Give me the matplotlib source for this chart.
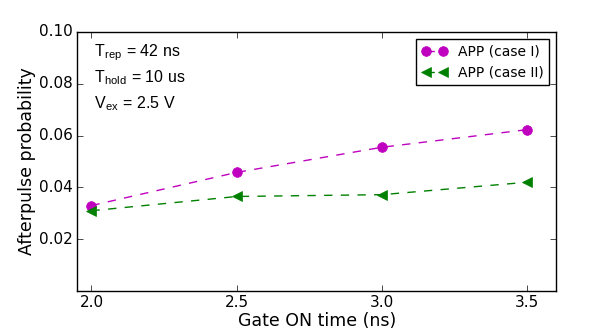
import matplotlib.pyplot as plt

gate_on = [2.0, 2.5, 3.0, 3.5]
app_case1 = [0.0330, 0.0458, 0.0555, 0.0623]
app_case2 = [0.0310, 0.0365, 0.0372, 0.0420]

plt.style.use('classic')
fig, ax = plt.subplots(figsize=(6.06, 3.33), dpi=100)
fig.patch.set_facecolor('white')
fig.subplots_adjust(left=0.127, right=0.918, top=0.904, bottom=0.126)

ax.plot(gate_on, app_case1, 'm--o', markersize=7, markeredgecolor='m',
        linewidth=1, label='APP (case I)')
ax.plot(gate_on, app_case2, 'g--<', markersize=7, markeredgecolor='g',
        linewidth=1, label='APP (case II)')

ax.set_xlim(1.95, 3.6)
ax.set_ylim(0, 0.10)
ax.set_xticks([2.0, 2.5, 3.0, 3.5])
ax.set_yticks([0.02, 0.04, 0.06, 0.08, 0.10])
ax.tick_params(labelsize=11, pad=3)
ax.set_xlabel('Gate ON time (ns)', fontsize=12.5, labelpad=1)
ax.set_ylabel('Afterpulse probability', fontsize=12.5, labelpad=2)

# parametri di misura
info = [r'T$_{\mathregular{rep}}$ = 42 ns',
        r'T$_{\mathregular{hold}}$ = 10 us',
        r'V$_{\mathregular{ex}}$ = 2.5 V']
for i, s in enumerate(info):
    ax.text(0.035, 0.919 - 0.097 * i, s, transform=ax.transAxes,
            fontsize=11.5, family='Liberation Sans', va='center')

ax.legend(loc='upper right', fontsize=10, numpoints=2, handlelength=1.8)

plt.savefig('out.png', dpi=100, facecolor='white')
